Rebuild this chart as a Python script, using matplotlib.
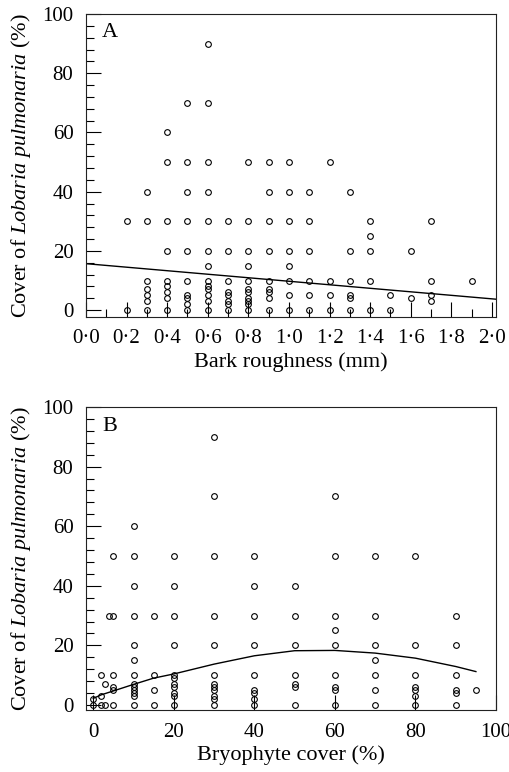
import numpy as np
import matplotlib
matplotlib.use('Agg')  # no display
import matplotlib.pyplot as plt
from matplotlib.ticker import MultipleLocator

plt.rcParams['font.family'] = ['Liberation Serif', 'DejaVu Serif']
plt.rcParams['mathtext.fontset'] = 'custom'
plt.rcParams['mathtext.rm'] = 'Liberation Serif'
plt.rcParams['mathtext.it'] = 'Liberation Serif:italic'

# Panel A: bark roughness (mm) vs Lobaria cover (%)
bark_cols = [0.2, 0.3, 0.4, 0.5, 0.6, 0.7, 0.8, 0.9, 1.0, 1.1, 1.2, 1.3, 1.4, 1.5, 1.6, 1.7, 1.9]
bark_cover = [
    [30, 0],
    [40, 30, 10, 7, 5, 3, 0],
    [60, 50, 30, 20, 10, 8, 6, 4, 0],
    [70, 50, 40, 30, 20, 10, 5, 4, 2, 0],
    [90, 70, 50, 40, 30, 20, 15, 10, 8, 7, 5, 3, 0],
    [30, 20, 10, 6, 5, 3, 2, 0],
    [50, 30, 20, 15, 10, 7, 6, 4, 3, 2, 0],
    [50, 40, 30, 20, 10, 7, 6, 4, 0],
    [50, 40, 30, 20, 15, 10, 5, 0],
    [40, 30, 20, 10, 5, 0],
    [50, 10, 5, 0],
    [40, 20, 10, 5, 4, 0],
    [30, 25, 20, 10, 0],
    [5, 0],
    [20, 4],
    [30, 10, 5, 3],
    [10],
]
# fitted line (end points)
bark_fit_x = [0.0, 2.02]
bark_fit_y = [15.7, 3.7]

a_xticks = [0.0, 0.2, 0.4, 0.6, 0.8, 1.0, 1.2, 1.4, 1.6, 1.8, 2.0]
a_xticklabels = ['0·0', '0·2', '0·4', '0·6', '0·8', '1·0', '1·2', '1·4', '1·6', '1·8', '2·0']
yticks = [0, 20, 40, 60, 80, 100]

# Panel B: bryophyte cover (%) vs Lobaria cover (%)
bryo_cols = [0, 2, 3, 4, 5, 10, 15, 20, 30, 40, 50, 60, 70, 80, 90, 95]
bryo_cover = [
    [2, 0],
    [10, 3, 0],
    [7, 0],
    [30],
    [50, 30, 10, 6, 5, 0],
    [60, 50, 40, 30, 20, 15, 10, 7, 6, 5, 4, 3, 0],
    [30, 10, 5, 0],
    [50, 40, 30, 20, 10, 9, 7, 6, 4, 3, 0],
    [90, 70, 50, 30, 20, 10, 7, 6, 5, 3, 2, 0],
    [50, 40, 30, 20, 10, 5, 4, 2, 0],
    [40, 30, 20, 10, 7, 6, 0],
    [70, 50, 30, 25, 20, 10, 6, 5, 0],
    [50, 30, 20, 15, 10, 5, 0],
    [50, 20, 10, 6, 5, 3, 0],
    [30, 20, 10, 5, 4, 0],
    [5],
]
# fitted curve
bryo_fit_x = [0, 2, 5, 10, 15, 20, 30, 40, 50, 60, 70, 80, 90, 95]
bryo_fit_y = [2.2, 3.4, 4.7, 6.9, 9.0, 10.4, 13.7, 16.5, 18.2, 18.3, 17.4, 15.7, 12.9, 11.2]
b_xticks = [0, 20, 40, 60, 80, 100]


def flatten(cols, vals):
    xs, ys = [], []
    for c, v in zip(cols, vals):
        xs += [c] * len(v)
        ys += v
    return xs, ys


def style_axes(ax):
    for s in ax.spines.values():
        s.set_linewidth(0.8)
        s.set_color('#222222')
    ax.tick_params(which='major', direction='in', length=10.5, width=0.8,
                   pad=9, labelsize=15, top=False, right=False)
    ax.tick_params(which='minor', direction='in', length=5.5, width=0.8,
                   top=False, right=False)
    ax.set_yticks(yticks)
    ax.yaxis.set_minor_locator(MultipleLocator(4))
    ax.set_ylabel('Cover of $\\mathit{Lobaria\\ pulmonaria}$ (%)', fontsize=16, labelpad=7)


fig = plt.figure(figsize=(5.1, 7.72), dpi=100)
ax_a = fig.add_axes([0.1686, 0.5898, 0.804, 0.392])
ax_b = fig.add_axes([0.1686, 0.0803, 0.804, 0.3925])

mk = dict(marker='o', ms=4.1, mfc='none', mec='black', mew=0.8, ls='none', zorder=3)

ax_a_x, ax_a_y = flatten(bark_cols, bark_cover)
ax_a.plot(ax_a_x, ax_a_y, **mk)
ax_a.plot(bark_fit_x, bark_fit_y, color='black', lw=1.0)
ax_a.set_xlim(0, 2.02)
ax_a.set_ylim(-2.2, 100)
style_axes(ax_a)
ax_a.set_xticks(a_xticks, a_xticklabels)
ax_a.xaxis.set_minor_locator(MultipleLocator(0.1))
ax_a.set_xlabel('Bark roughness (mm)', fontsize=16, labelpad=3)
ax_a.text(0.039, 0.97, 'A', transform=ax_a.transAxes, fontsize=16, va='top', ha='left')

bx, by = flatten(bryo_cols, bryo_cover)
ax_b.plot(bx, by, **mk)
ax_b.plot(bryo_fit_x, bryo_fit_y, color='black', lw=1.0)
ax_b.set_xlim(-1.8, 100)
ax_b.set_ylim(-1.7, 100)
style_axes(ax_b)
ax_b.set_xticks(b_xticks)
ax_b.set_xlabel('Bryophyte cover (%)', fontsize=16, labelpad=3)
ax_b.text(0.039, 0.968, 'B', transform=ax_b.transAxes, fontsize=16, va='top', ha='left')

fig.savefig('out.png', dpi=100)
plt.close(fig)
